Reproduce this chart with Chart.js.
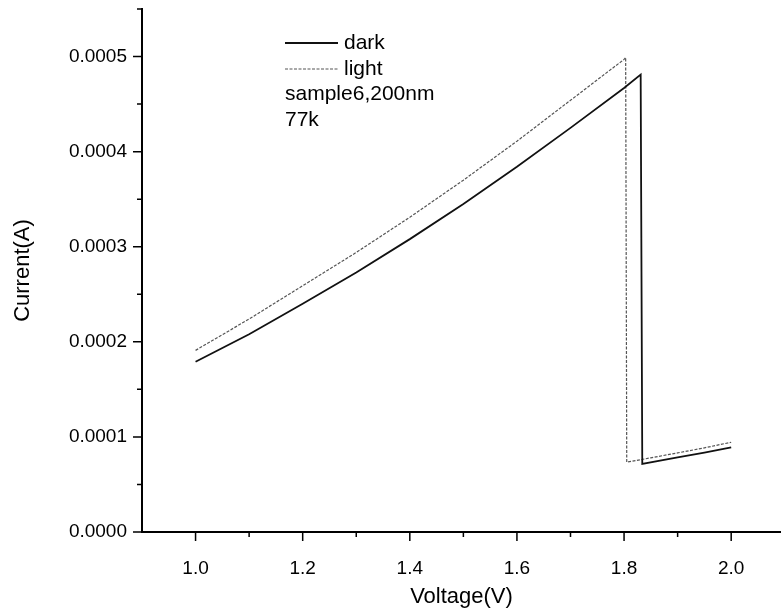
<!DOCTYPE html>
<html>
<head>
<meta charset="utf-8">
<script src="https://cdn.jsdelivr.net/npm/chart.js@4.4.1/dist/chart.umd.min.js"></script>
<style>
  html, body { margin: 0; padding: 0; background: #fff; }
  #wrap { width: 781px; height: 612px; }
</style>
</head>
<body>
<div id="wrap"><canvas id="ivChart" width="781" height="612"></canvas></div>
<script>
//Dados (V em volts, I em amperes)
const darkV = [1.0, 1.1, 1.2, 1.3, 1.4, 1.5, 1.6, 1.7, 1.8, 1.831, 1.834, 1.9, 1.95, 2.0];
const darkI = [0.000179, 0.000208, 0.000240, 0.000273, 0.000308, 0.000345, 0.000384, 0.000425, 0.000467, 0.000481,
               0.0000716, 0.0000785, 0.0000835, 0.0000890];
const lightV = [1.0, 1.1, 1.2, 1.3, 1.4, 1.5, 1.6, 1.7, 1.8, 1.803, 1.805, 1.85, 1.9, 1.95, 2.0];
const lightI = [0.000191, 0.000224, 0.000259, 0.000294, 0.000331, 0.000370, 0.000411, 0.000454, 0.000497, 0.000499,
                0.0000734, 0.0000780, 0.0000832, 0.0000885, 0.0000944];

const xMajorTicks = [1.0, 1.2, 1.4, 1.6, 1.8, 2.0];
const xMinorTicks = [1.1, 1.3, 1.5, 1.7, 1.9];
const yMajorTicks = [0, 0.0001, 0.0002, 0.0003, 0.0004, 0.0005];
const yMinorTicks = [0.00005, 0.00015, 0.00025, 0.00035, 0.00045, 0.00055];

const legendLines = ['dark', 'light'];
const noteLines = ['sample6,200nm', '77k'];

const FONT = '"Liberation Sans", Arial, sans-serif';

function toPoints(xs, ys) {
  return xs.map((x, i) => ({ x: x, y: ys[i] }));
}

//Marcas de escala estilo Origin (maiores e menores, para fora)
const tickMarksPlugin = {
  id: 'tickMarks',
  afterDraw(chart) {
    const ctx = chart.ctx;
    const xs = chart.scales.x;
    const ys = chart.scales.y;
    const { left, bottom } = chart.chartArea;
    ctx.save();
    ctx.strokeStyle = '#000';
    ctx.lineWidth = 1.5;
    ctx.beginPath();
    xMajorTicks.forEach(v => {
      const p = xs.getPixelForValue(v);
      ctx.moveTo(p, bottom); ctx.lineTo(p, bottom + 9);
    });
    xMinorTicks.forEach(v => {
      const p = xs.getPixelForValue(v);
      ctx.moveTo(p, bottom); ctx.lineTo(p, bottom + 5);
    });
    yMajorTicks.forEach(v => {
      const p = ys.getPixelForValue(v);
      ctx.moveTo(left, p); ctx.lineTo(left - 9, p);
    });
    yMinorTicks.forEach(v => {
      const p = ys.getPixelForValue(v);
      ctx.moveTo(left, p); ctx.lineTo(left - 5, p);
    });
    ctx.stroke();
    ctx.restore();
  }
};

//Legenda + anotação dentro da área do gráfico
const legendNotePlugin = {
  id: 'legendNote',
  afterDraw(chart) {
    const ctx = chart.ctx;
    const { left, top } = chart.chartArea;
    const x0 = left + 143;
    const y0 = top + 34;
    const rowH = 26;
    const ds = chart.data.datasets;
    ctx.save();
    ctx.font = '21px ' + FONT;
    ctx.fillStyle = '#000';
    ctx.textBaseline = 'middle';
    legendLines.forEach((label, i) => {
      const y = y0 + i * rowH;
      ctx.strokeStyle = ds[i].borderColor;
      ctx.lineWidth = ds[i].borderWidth;
      ctx.setLineDash(ds[i].borderDash || []);
      ctx.beginPath();
      ctx.moveTo(x0, y);
      ctx.lineTo(x0 + 53, y);
      ctx.stroke();
      ctx.fillText(label, x0 + 59, y);
    });
    noteLines.forEach((t, i) => {
      ctx.fillText(t, x0, y0 + (legendLines.length + i) * rowH - 1);
    });
    ctx.restore();
  }
};

const ctx = document.getElementById('ivChart').getContext('2d');
new Chart(ctx, {
  type: 'line',
  data: {
    datasets: [
      {
        label: 'dark',
        data: toPoints(darkV, darkI),
        borderColor: '#111',
        borderWidth: 1.8,
        pointRadius: 0,
        fill: false,
        tension: 0
      },
      {
        label: 'light',
        data: toPoints(lightV, lightI),
        borderColor: '#555',
        borderWidth: 1.2,
        borderDash: [3, 1.5],
        pointRadius: 0,
        fill: false,
        tension: 0
      }
    ]
  },
  options: {
    responsive: false,
    animation: false,
    layout: { padding: { top: 9, right: 0, left: 0, bottom: 0 } },
    plugins: {
      legend: { display: false },
      tooltip: { enabled: false }
    },
    scales: {
      x: {
        type: 'linear',
        min: 0.9,
        max: 2.093,
        afterBuildTicks: scale => { scale.ticks = xMajorTicks.map(v => ({ value: v })); },
        afterFit: scale => { scale.height = 80; scale.paddingLeft = 0; scale.paddingRight = 0; },
        grid: { display: false, drawTicks: false },
        border: { display: true, color: '#000', width: 2 },
        ticks: {
          padding: 25,
          color: '#000',
          font: { family: FONT, size: 19 },
          callback: v => Number(v).toFixed(1),
          maxRotation: 0
        },
        title: {
          display: true,
          text: 'Voltage(V)',
          color: '#000',
          font: { family: FONT, size: 22, lineHeight: 1 },
          padding: { top: 0, bottom: 4 }
        }
      },
      y: {
        min: 0,
        max: 0.00055,
        afterBuildTicks: scale => { scale.ticks = yMajorTicks.map(v => ({ value: v })); },
        afterFit: scale => { scale.width = 142; scale.paddingTop = 0; scale.paddingBottom = 0; },
        grid: { display: false, drawTicks: false },
        border: { display: true, color: '#000', width: 2 },
        ticks: {
          padding: 15,
          color: '#000',
          font: { family: FONT, size: 19 },
          callback: v => Number(v).toFixed(4)
        },
        title: {
          display: true,
          text: 'Current(A)',
          color: '#000',
          font: { family: FONT, size: 22, lineHeight: 1 },
          padding: { top: 12, bottom: 0 }
        }
      }
    }
  },
  plugins: [tickMarksPlugin, legendNotePlugin]
});
</script>
</body>
</html>
